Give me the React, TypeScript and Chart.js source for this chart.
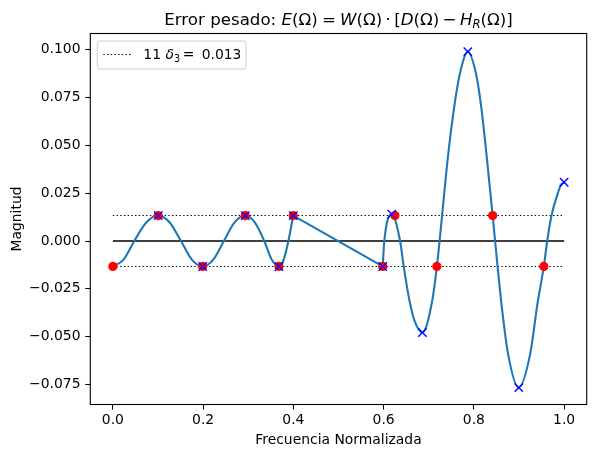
import { useEffect, useRef } from "react";
import { Chart, registerables } from "chart.js";

Chart.register(...registerables);

const FONT = "'DejaVu Sans', 'Liberation Sans', sans-serif";

// ---- data ----
const passbandX = [
  0, 0.0237, 0.0474, 0.074, 0.1006, 0.1258, 0.151, 0.175, 0.199, 0.2225, 0.246, 0.2697, 0.2934,
  0.3145, 0.3355, 0.352, 0.368, 0.3785, 0.389, 0.3997,
];
const passbandY = [
  -0.0133, -0.0097, 0, 0.0097, 0.0133, 0.0097, 0, -0.0097, -0.0133, -0.0097, 0, 0.0097, 0.0133,
  0.0097, 0, -0.0097, -0.0133, -0.0097, 0, 0.0133,
];

const transitionX = [0.3997, 0.598];
const transitionY = [0.0133, -0.0133];

const stopbandX = [
  0.598, 0.6015, 0.618, 0.6365, 0.6445, 0.657, 0.668, 0.686, 0.708, 0.718, 0.724, 0.7425, 0.7565,
  0.7692, 0.7866, 0.8045, 0.8162, 0.8285, 0.8416, 0.847, 0.861, 0.8755, 0.8995, 0.925, 0.941,
  0.955, 0.9625, 0.972, 0.986, 0.993, 1.0,
];
const stopbandY = [
  -0.0133, 0, 0.014, 0, -0.0133, -0.0308, -0.0413, -0.0478, -0.0308, -0.0133, 0, 0.044, 0.0702,
  0.0876, 0.0989, 0.0876, 0.0702, 0.044, 0.0133, 0, -0.0326, -0.0587, -0.0766, -0.0587, -0.0326,
  -0.0133, 0, 0.0133, 0.0249, 0.0294, 0.0307,
];

const redX = [0, 0.1006, 0.199, 0.2934, 0.368, 0.3997, 0.598, 0.625, 0.718, 0.8416, 0.955];
const redY = [-0.0133, 0.0133, -0.0133, 0.0133, -0.0133, 0.0133, -0.0133, 0.0133, -0.0133, 0.0133, -0.0133];

const blueX = [0.1006, 0.199, 0.2934, 0.368, 0.3997, 0.598, 0.618, 0.686, 0.7866, 0.8995, 1.0];
const blueY = [0.0133, -0.0133, 0.0133, -0.0133, 0.0133, -0.0133, 0.014, -0.0478, 0.0989, -0.0766, 0.0307];

const refLineX = [0, 1];
const zeroY = [0, 0];
const upperY = [0.0133, 0.0133];
const lowerY = [-0.0133, -0.0133];

const xTicks = [0, 0.2, 0.4, 0.6, 0.8, 1.0];
const yTicks = [-0.075, -0.05, -0.025, 0, 0.025, 0.05, 0.075, 0.1];

const titlePlain = "Error pesado: ";
const xLabel = "Frecuencia Normalizada";
const yLabel = "Magnitud";
const legendCount = "11 ";
const legendValue = "0.013";

type Part = { t: string; it?: boolean; s?: number; dy?: number; gap?: number };

function fontFor(p: Part, size: number) {
  return `${p.it ? "italic " : ""}${size * (p.s || 1)}px ${FONT}`;
}

function drawRich(ctx: CanvasRenderingContext2D, parts: Part[], x: number, y: number, size: number, align: "left" | "center") {
  let w = 0;
  const widths: number[] = [];
  for (const p of parts) {
    ctx.font = fontFor(p, size);
    const pw = ctx.measureText(p.t).width;
    widths.push(pw);
    w += (p.gap || 0) * size + pw;
  }
  let cx = align === "center" ? x - w / 2 : x;
  ctx.textAlign = "left";
  ctx.textBaseline = "alphabetic";
  parts.forEach((p, i) => {
    cx += (p.gap || 0) * size;
    ctx.font = fontFor(p, size);
    ctx.fillText(p.t, cx, y + (p.dy || 0) * size);
    cx += widths[i];
  });
}

const DASH = [1.4, 2.3];

const decorPlugin = {
  id: "decor",
  afterDraw(chart: any) {
    const ctx: CanvasRenderingContext2D = chart.ctx;
    const a = chart.chartArea;
    ctx.save();
    // frame
    ctx.strokeStyle = "#000";
    ctx.lineWidth = 1.1;
    ctx.setLineDash([]);
    ctx.strokeRect(a.left, a.top, a.right - a.left, a.bottom - a.top);

    ctx.fillStyle = "#000";
    const cx = (a.left + a.right) / 2;
    const cy = (a.top + a.bottom) / 2;

    // title
    const T = 16.67;
    drawRich(
      ctx,
      [
        { t: titlePlain },
        { t: "E", it: true },
        { t: "(Ω)" },
        { t: "=", gap: 0.25 },
        { t: "W", it: true, gap: 0.25 },
        { t: "(Ω)" },
        { t: "·", gap: 0.2 },
        { t: "[", gap: 0.2 },
        { t: "D", it: true },
        { t: "(Ω)" },
        { t: "−", gap: 0.2 },
        { t: "H", it: true, gap: 0.2 },
        { t: "R", it: true, s: 0.7, dy: 0.22 },
        { t: "(Ω)]" },
      ],
      cx,
      24.5,
      T,
      "center"
    );

    // axis labels
    const L = 13.9;
    ctx.font = `${L}px ${FONT}`;
    ctx.textAlign = "center";
    ctx.textBaseline = "alphabetic";
    ctx.fillText(xLabel, cx, 443.5);
    ctx.save();
    ctx.translate(21, cy);
    ctx.rotate(-Math.PI / 2);
    ctx.fillText(yLabel, 0, 0);
    ctx.restore();

    // legend
    const lx = 97.3, ly = 41, lw = 148.7, lh = 28, r = 2.8;
    ctx.beginPath();
    ctx.moveTo(lx + r, ly);
    ctx.lineTo(lx + lw - r, ly);
    ctx.arcTo(lx + lw, ly, lx + lw, ly + r, r);
    ctx.lineTo(lx + lw, ly + lh - r);
    ctx.arcTo(lx + lw, ly + lh, lx + lw - r, ly + lh, r);
    ctx.lineTo(lx + r, ly + lh);
    ctx.arcTo(lx, ly + lh, lx, ly + lh - r, r);
    ctx.lineTo(lx, ly + r);
    ctx.arcTo(lx, ly, lx + r, ly, r);
    ctx.closePath();
    ctx.fillStyle = "rgba(255,255,255,0.8)";
    ctx.fill();
    ctx.strokeStyle = "#cccccc";
    ctx.lineWidth = 1;
    ctx.stroke();

    ctx.beginPath();
    ctx.setLineDash(DASH);
    ctx.strokeStyle = "#000";
    ctx.lineWidth = 1.1;
    ctx.moveTo(103.3, 54.5);
    ctx.lineTo(131, 54.5);
    ctx.stroke();
    ctx.setLineDash([]);

    ctx.fillStyle = "#000";
    drawRich(
      ctx,
      [
        { t: legendCount },
        { t: "δ", it: true },
        { t: "3", s: 0.7, dy: 0.22 },
        { t: "=", gap: 0.2 },
        { t: " " + legendValue, gap: 0.2 },
      ],
      143.3,
      59,
      L,
      "left"
    );
    ctx.restore();
  },
};

function pts(xs: number[], ys: number[]) {
  return xs.map((x, i) => ({ x, y: ys[i] }));
}

export default function App() {
  const ref = useRef<HTMLCanvasElement>(null);

  useEffect(() => {
    const curve = {
      borderColor: "#1f77b4",
      borderWidth: 2.1,
      pointRadius: 0,
      cubicInterpolationMode: "monotone" as const,
      fill: false,
      order: 2,
    };
    const chart = new Chart(ref.current as HTMLCanvasElement, {
      type: "line",
      data: {
        datasets: [
          {
            label: "extremos",
            data: pts(blueX, blueY),
            showLine: false,
            pointStyle: "crossRot",
            pointRadius: 5.9,
            pointBorderColor: "blue",
            pointBackgroundColor: "blue",
            pointBorderWidth: 1.4,
            order: 0,
          },
          {
            label: "puntos",
            data: pts(redX, redY),
            showLine: false,
            pointStyle: "circle",
            pointRadius: 4.6,
            pointBackgroundColor: "red",
            pointBorderColor: "red",
            pointBorderWidth: 0,
            order: 1,
          },
          { label: "pasabanda", data: pts(passbandX, passbandY), ...curve },
          { label: "transicion", data: pts(transitionX, transitionY), ...curve, cubicInterpolationMode: "default", tension: 0 },
          { label: "rechazo", data: pts(stopbandX, stopbandY), ...curve },
          { label: "cero", data: pts(refLineX, zeroY), borderColor: "#000", borderWidth: 1.4, pointRadius: 0, tension: 0, order: 3 },
          { label: "sup", data: pts(refLineX, upperY), borderColor: "#000", borderWidth: 1.1, borderDash: DASH, pointRadius: 0, tension: 0, order: 3 },
          { label: "inf", data: pts(refLineX, lowerY), borderColor: "#000", borderWidth: 1.1, borderDash: DASH, pointRadius: 0, tension: 0, order: 3 },
        ],
      },
      options: {
        animation: false,
        responsive: true,
        maintainAspectRatio: false,
        events: [],
        layout: { padding: { left: 0, top: 33.5, right: 9.3, bottom: 0 } },
        plugins: { legend: { display: false }, tooltip: { enabled: false }, title: { display: false } },
        scales: {
          x: {
            type: "linear",
            min: -0.05,
            max: 1.05,
            afterBuildTicks: (s: any) => {
              s.ticks = xTicks.map((v) => ({ value: v }));
            },
            afterFit: (s: any) => {
              s.height = 52.5;
            },
            ticks: {
              autoSkip: false,
              maxRotation: 0,
              padding: 2.4,
              color: "#000",
              font: { family: FONT, size: 13.9 },
              callback: (v: any) => Number(v).toFixed(1),
            },
            grid: { display: true, drawOnChartArea: false, drawTicks: true, tickLength: 5, tickColor: "#000", tickWidth: 1.1 },
            border: { display: false },
          },
          y: {
            type: "linear",
            min: -0.08542,
            max: 0.10841,
            afterBuildTicks: (s: any) => {
              s.ticks = yTicks.map((v) => ({ value: v }));
            },
            afterFit: (s: any) => {
              s.width = 90.3;
            },
            ticks: {
              autoSkip: false,
              padding: 4.8,
              color: "#000",
              font: { family: FONT, size: 13.9 },
              callback: (v: any) => {
                const n = Number(v);
                return n < 0 ? "\u2212" + Math.abs(n).toFixed(3) : n.toFixed(3);
              },
            },
            grid: { display: true, drawOnChartArea: false, drawTicks: true, tickLength: 5, tickColor: "#000", tickWidth: 1.1 },
            border: { display: false },
          },
        },
      },
      plugins: [decorPlugin],
    } as any);
    return () => chart.destroy();
  }, []);

  return (
    <div style={{ position: "fixed", left: 0, top: 0, width: 596, height: 457, background: "#fff" }}>
      <canvas ref={ref} />
    </div>
  );
}
